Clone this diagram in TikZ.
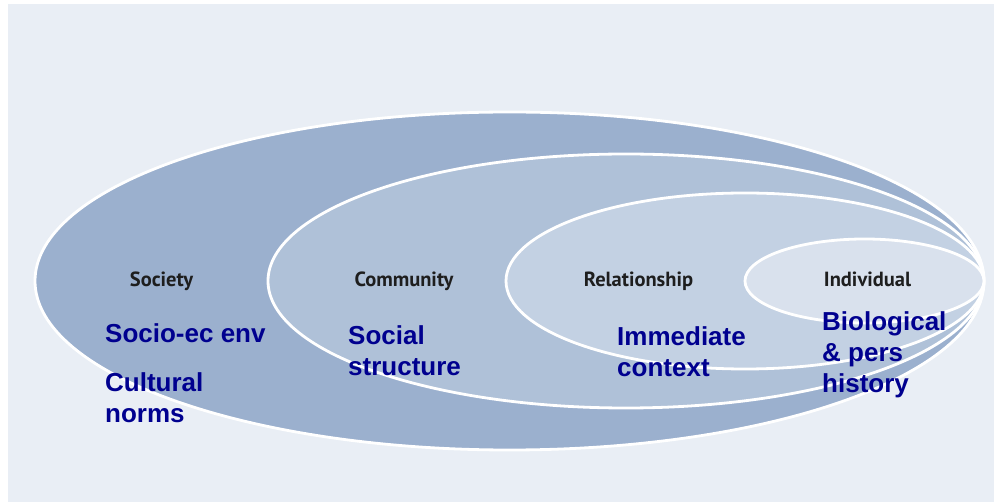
\documentclass[tikz,border=0pt]{standalone}
\usepackage{fontspec}
\setmainfont{Liberation Sans}
\newfontfamily\lblfont{PT Sans}
\definecolor{panelbg}{HTML}{E9EEF5}
\definecolor{ringA}{HTML}{9BB0CE}
\definecolor{ringB}{HTML}{AFC1D8}
\definecolor{ringC}{HTML}{C3D1E3}
\definecolor{ringD}{HTML}{D9E1ED}
\definecolor{bluetext}{HTML}{00008F}
\definecolor{greytext}{HTML}{1E1E1E}
\tikzset{
  ring/.style={draw=white, line width=2.8pt},
  levellabel/.style={inner sep=0pt, anchor=base, text=greytext, font=\lblfont\bfseries\fontsize{20.5}{22}\selectfont},
  factor/.style={inner sep=0pt, anchor=base west, text=bluetext, font=\bfseries\fontsize{26}{31}\selectfont}
}
\begin{document}
\begin{tikzpicture}[x=1pt,y=-1pt]
\useasboundingbox (0,0) rectangle (994,502);
\fill[white] (0,0) rectangle (994,502);
\fill[panelbg] (8,4) rectangle (994,502);
\draw[ring, fill=ringA] (509.5,281) ellipse [x radius=474.5, y radius=169];
\draw[ring, fill=ringB] (626,281) ellipse [x radius=358, y radius=127];
\draw[ring, fill=ringC] (745,281) ellipse [x radius=239, y radius=88];
\draw[ring, fill=ringD] (864.5,281) ellipse [x radius=119.5, y radius=42];
\node[levellabel] (society) at (161.5,287) {Society};
\node[levellabel] (community) at (404,287) {Community};
\node[levellabel] (relationship) at (638.5,287) {Relationship};
\node[levellabel] (individual) at (867.5,287) {Individual};
\node[factor] (socioec) at (105,343) {Socio-ec env};
\node[factor] (cultural) at (105,392) {Cultural};
\node[factor] (norms) at (105,423) {norms};
\node[factor] (social) at (348,345) {Social};
\node[factor] (structure) at (348,376) {structure};
\node[factor] (immediate) at (617,346) {Immediate};
\node[factor] (context) at (617,377) {context};
\node[factor] (biological) at (822,331) {Biological};
\node[factor] (pers) at (822,362) {\& pers};
\node[factor] (history) at (822,393) {history};
\end{tikzpicture}
\end{document}
